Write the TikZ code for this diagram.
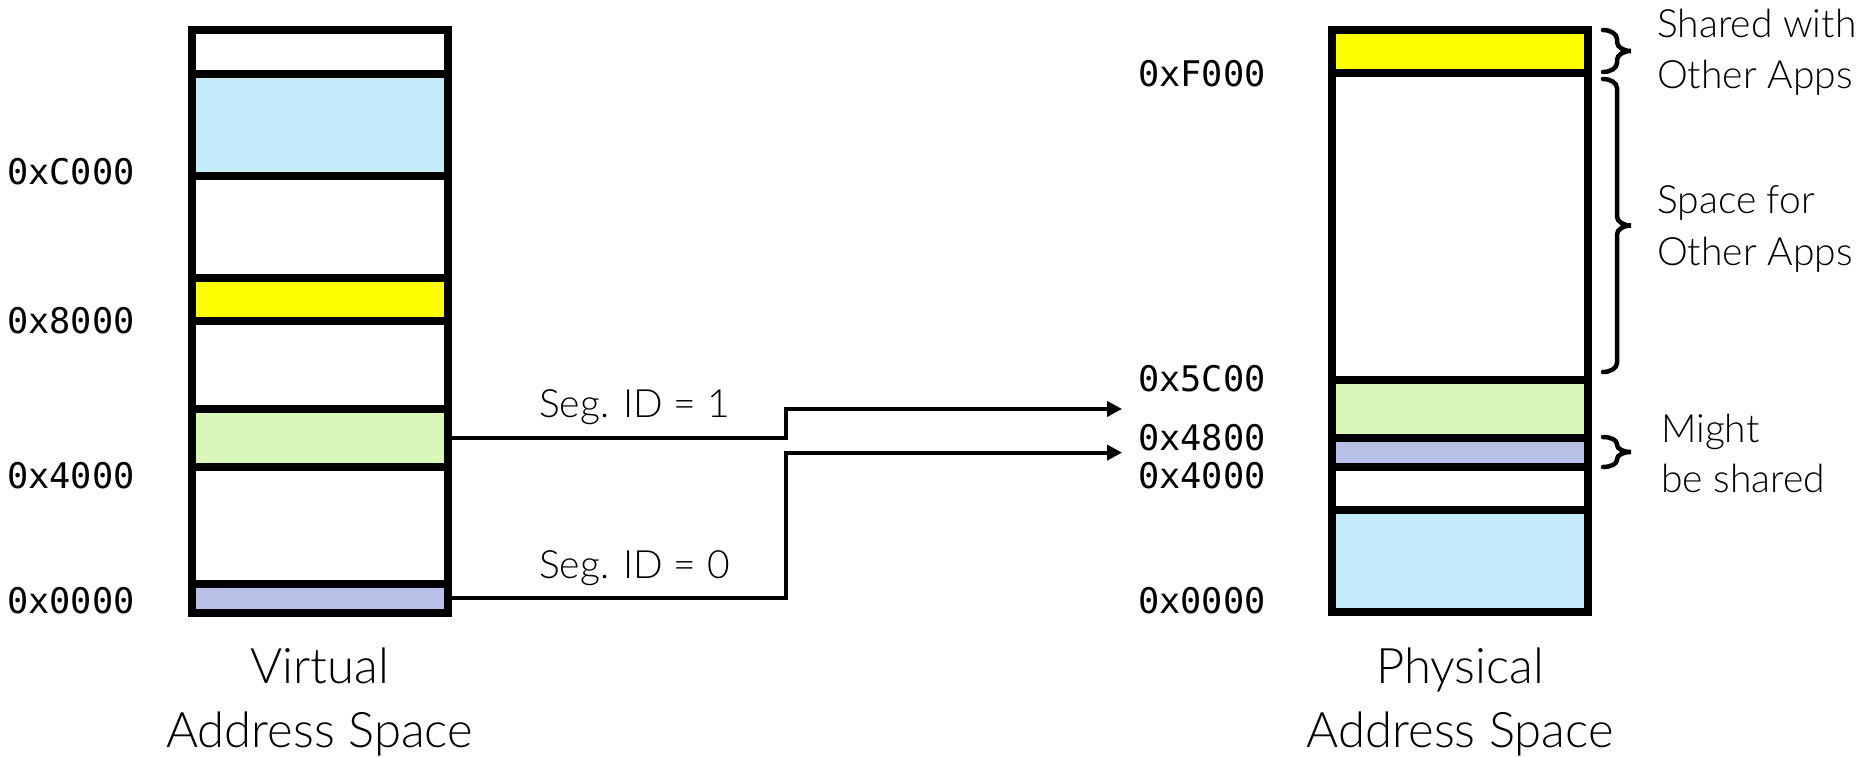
\documentclass[tikz,border=0pt]{standalone}
\usepackage{fontspec}
\newfontfamily\gill{Lato Light}
\newfontfamily\hexf{DejaVu Sans Mono}
\usetikzlibrary{arrows.meta,calc}
\definecolor{segblue}{HTML}{C3EBF9}
\definecolor{segyellow}{HTML}{FFFF00}
\definecolor{seggreen}{HTML}{DAF7BA}
\definecolor{seglav}{HTML}{B7C1E7}
\newcommand{\curlybrace}[5]{%
  \pgfmathsetmacro\cbm{(#2+#3)/2}%
  \draw[brc] (#1,#2) .. controls (#1+0.55*#4,#2) and (#1+#4,#2+0.45*#5) .. (#1+#4,#2+#5)
    -- (#1+#4,\cbm-#5)
    .. controls (#1+#4,\cbm-0.45*#5) and (#1+1.45*#4,\cbm) .. (#1+2*#4,\cbm)
    .. controls (#1+1.45*#4,\cbm) and (#1+#4,\cbm+0.45*#5) .. (#1+#4,\cbm+#5)
    -- (#1+#4,#3-#5)
    .. controls (#1+#4,#3-0.45*#5) and (#1+0.55*#4,#3) .. (#1,#3);}
\begin{document}
\begin{tikzpicture}[x=1pt,y=-1pt,
  seg/.style={draw=black, line width=8pt, line join=miter, inner sep=0pt, outer sep=0pt},
  vseg/.style={seg, minimum width=256.2pt},
  pseg/.style={seg, minimum width=255.5pt},
  conn/.style={line width=4pt, line join=miter, -{Triangle[length=15pt,width=15pt]}},
  brc/.style={line width=4.5pt, line cap=round},
  hexlbl/.style={font=\hexf\fontsize{35.3}{41}\selectfont, anchor=base west, inner sep=0pt},
  seglbl/.style={font=\gill\fontsize{39}{46}\selectfont, anchor=base west, inner sep=0pt},
  ttl/.style={font=\gill\fontsize{49}{58}\selectfont, anchor=base, inner sep=0pt}]
\useasboundingbox (0,0) rectangle (1864,757);
\fill[white] (0,0) rectangle (1864,757);

% virtual address space
\node[vseg, fill=white, minimum height=582pt] (vbox) at (319.6,321.5) {};
\node[vseg, fill=segblue, minimum height=101.5pt] (vblue) at (319.6,125.25) {};
\node[vseg, fill=segyellow, minimum height=43pt] (vyellow) at (319.6,299.5) {};
\node[vseg, fill=seggreen, minimum height=58.2pt] (vgreen) at (319.6,437.9) {};
\node[vseg, fill=seglav, minimum height=28.7pt] (vlav) at (319.6,598.15) {};

% physical address space
\node[pseg, fill=white, minimum height=581.5pt] (pbox) at (1460.2,321.25) {};
\node[pseg, fill=segyellow, minimum height=42.8pt] (pyellow) at (1460.2,51.9) {};
\node[pseg, fill=seggreen, minimum height=58.5pt] (pgreen) at (1460.2,408.95) {};
\node[pseg, fill=seglav, minimum height=28.8pt] (plav) at (1460.2,452.6) {};
\node[pseg, fill=segblue, minimum height=102pt] (pblue) at (1460.2,561) {};

% address labels
\node[hexlbl] (vC) at (7,184) {0xC000};
\node[hexlbl] (v8) at (7,333) {0x8000};
\node[hexlbl] (v4) at (7,488) {0x4000};
\node[hexlbl] (v0) at (7,613) {0x0000};
\node[hexlbl] (pF) at (1138,87) {0xF000};
\node[hexlbl] (p5C) at (1138,391) {0x5C00};
\node[hexlbl] (p48) at (1138,450) {0x4800};
\node[hexlbl] (p40) at (1138,488) {0x4000};
\node[hexlbl] (p00) at (1138,613) {0x0000};

% connectors
\coordinate (k) at (786,0);
\coordinate (t1) at ([xshift=-210.4pt]pgreen.west);
\coordinate (t0) at ([xshift=-210.4pt]plav.west);
\draw[conn] (vgreen.east) -- (vgreen.east -| k) -- (k |- t1) -- (t1);
\draw[conn] (vlav.east) -- (vlav.east -| k) -- (k |- t0) -- (t0);
\node[seglbl] (s1) at (539,417) {Seg. ID = 1};
\node[seglbl] (s0) at (539,578) {Seg. ID = 0};

% titles
\node[ttl] (vt1) at (319.6,683) {Virtual};
\node[ttl] (vt2) at (319.6,747) {Address Space};
\node[ttl] (pt1) at (1460.2,683) {Physical};
\node[ttl] (pt2) at (1460.2,747) {Address Space};

% braces
\curlybrace{1603}{30}{72}{14}{9}
\curlybrace{1603}{79}{372}{14}{9}
\curlybrace{1603}{437}{467}{14}{7}
\node[seglbl] (b1a) at (1657,38) {Shared with};
\node[seglbl] (b1b) at (1657,89) {Other Apps};
\node[seglbl] (b2a) at (1657,213) {Space for};
\node[seglbl] (b2b) at (1657,265) {Other Apps};
\node[seglbl] (b3a) at (1661,442) {Might};
\node[seglbl] (b3b) at (1661,492) {be shared};
\end{tikzpicture}
\end{document}
